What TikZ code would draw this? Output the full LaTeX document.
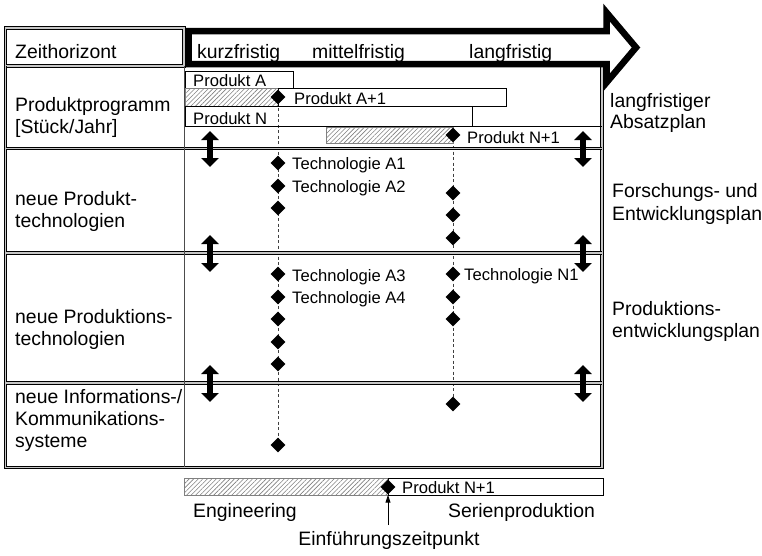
\documentclass[tikz,border=0pt]{standalone}
\usepackage{fontspec}
\setmainfont{Liberation Sans}
\usetikzlibrary{shapes.geometric,arrows.meta,patterns.meta,backgrounds}

\begin{document}
\begin{tikzpicture}[x=1pt,y=-1pt,
  bigtext/.style={font=\fontsize{19.4}{22}\selectfont, inner sep=0pt, anchor=base west},
  smalltext/.style={font=\fontsize{16.6}{19}\selectfont, inner sep=0pt, anchor=base west},
  frameline/.style={draw=black, line width=0.9pt, double=gray!45, double distance=1.8pt},
  barbox/.style={draw=black, line width=0.8pt},
  hatchbox/.style={draw=gray, line width=0.6pt,
    pattern={Lines[angle=45,distance=3.2pt,line width=0.6pt]}, pattern color=gray},
  milestone/.style={diamond, fill=black, inner sep=0pt, minimum width=15pt, minimum height=15pt},
  guide/.style={draw=gray!50!black, line width=0.8pt, dash pattern=on 3pt off 2.5pt},
  spanarrow/.style={line width=6pt, {Triangle[width=17pt,length=9pt]}-{Triangle[width=17pt,length=9pt]}},
  timearrow/.style={draw=black, line width=6.5pt, line join=miter, fill=white}
]
\useasboundingbox (0,0) rectangle (762,555);
\begin{pgfonlayer}{background}
  \fill[white] (0,0) rectangle (762,555);
\end{pgfonlayer}

% table frame and row separators
\draw[frameline] (5.5,28) rectangle (184,66);
\draw[frameline] (602,67) -- (602,467.5) -- (5.5,467.5) -- (5.5,66);
\draw[frameline] (5.5,148.5) -- (602,148.5);
\draw[frameline] (5.5,253) -- (602,253);
\draw[frameline] (5.5,383) -- (602,383);
\draw[black!70, line width=0.7pt] (184.5,66) -- (184.5,467);

% time axis arrow
\draw[timearrow] (188.5,31) -- (606.5,31) -- (606.5,12.5) -- (636,47.5)
  -- (606.5,82.5) -- (606.5,64) -- (188.5,64) -- cycle;

% header texts
\node[bigtext] (zh) at (15,58) {Zeithorizont};
\node[bigtext] (kf) at (197,58) {kurzfristig};
\node[bigtext] (mf) at (312,58) {mittelfristig};
\node[bigtext] (lf) at (469,58) {langfristig};

% row titles
\node[bigtext] (r1a) at (15,111) {Produktprogramm};
\node[bigtext] (r1b) at (15,133) {[Stück/Jahr]};
\node[bigtext] (r2a) at (15,205) {neue Produkt-};
\node[bigtext] (r2b) at (15,227) {technologien};
\node[bigtext] (r3a) at (15,323) {neue Produktions-};
\node[bigtext] (r3b) at (15,345) {technologien};
\node[bigtext] (r4a) at (15,403) {neue Informations-/};
\node[bigtext] (r4b) at (15,425) {Kommunikations-};
\node[bigtext] (r4c) at (15,447) {systeme};

% plan names
\node[bigtext] (p1a) at (610,107) {langfristiger};
\node[bigtext] (p1b) at (610,128) {Absatzplan};
\node[bigtext] (p2a) at (612,197) {Forschungs- und};
\node[bigtext] (p2b) at (612,220) {Entwicklungsplan};
\node[bigtext] (p3a) at (612,315) {Produktions-};
\node[bigtext] (p3b) at (612,337) {entwicklungsplan};

% product program bars
\draw[barbox] (185,71) rectangle (293,88);
\draw[hatchbox] (185,88) rectangle (278,106.5);
\draw[barbox] (278,88) rectangle (506,106.5);
\draw[barbox] (185,106.5) rectangle (472,126) -- (602,126);
\draw[hatchbox] (326,127) rectangle (453,143);
\node[smalltext] (pA) at (193,86) {Produkt A};
\node[smalltext] (pA1) at (294,104) {Produkt A+1};
\node[smalltext] (pN) at (193,124) {Produkt N};
\node[smalltext] (pN1) at (467,143) {Produkt N+1};

% milestones, column A
\node[milestone] (a0) at (278,97) {};
\node[milestone] (a1) at (278,163) {};
\node[milestone] (a2) at (278,186) {};
\node[milestone] (a3) at (278,208) {};
\node[milestone] (a4) at (278,274) {};
\node[milestone] (a5) at (278,297) {};
\node[milestone] (a6) at (278,319) {};
\node[milestone] (a7) at (278,342) {};
\node[milestone] (a8) at (278,364) {};
\node[milestone] (a9) at (278,445) {};
% milestones, column N
\node[milestone] (n0) at (453,135) {};
\node[milestone] (n1) at (453,193) {};
\node[milestone] (n2) at (453,215) {};
\node[milestone] (n3) at (453,238) {};
\node[milestone] (n4) at (453,274) {};
\node[milestone] (n5) at (453,297) {};
\node[milestone] (n6) at (453,319) {};
\node[milestone] (n7) at (453,404) {};

\begin{pgfonlayer}{background}
  \draw[guide] (a0.center) -- (a9.center);
  \draw[guide] (n0.center) -- (n7.center);
\end{pgfonlayer}

\node[smalltext] (tA1) at (292,169) {Technologie A1};
\node[smalltext] (tA2) at (292,192) {Technologie A2};
\node[smalltext] (tA3) at (292,281) {Technologie A3};
\node[smalltext] (tA4) at (292,303) {Technologie A4};
\node[smalltext] (tN1) at (464,280) {Technologie N1};

% coordination arrows between the plans
\coordinate (l1t) at (210,131); \coordinate (l1b) at (210,167);
\coordinate (l2t) at (210,235); \coordinate (l2b) at (210,272);
\coordinate (l3t) at (210,365); \coordinate (l3b) at (210,402);
\coordinate (r1t) at (583,131); \coordinate (r1b) at (583,167);
\coordinate (r2t) at (583,235); \coordinate (r2b) at (583,272);
\coordinate (r3t) at (583,365); \coordinate (r3b) at (583,402);
\draw[spanarrow] (l1t) -- (l1b);
\draw[spanarrow] (l2t) -- (l2b);
\draw[spanarrow] (l3t) -- (l3b);
\draw[spanarrow] (r1t) -- (r1b);
\draw[spanarrow] (r2t) -- (r2b);
\draw[spanarrow] (r3t) -- (r3b);

% product N+1 timeline
\draw[hatchbox] (184,478) rectangle (388,495);
\draw[barbox] (388,478) rectangle (603,495);
\node[milestone] (b0) at (388,487) {};
\node[smalltext] (bN1) at (402,493) {Produkt N+1};
\node[bigtext] (eng) at (193,517) {Engineering};
\node[bigtext] (ser) at (448,517) {Serienproduktion};
\node[bigtext, anchor=base] (ezp) at (389,545) {Einführungszeitpunkt};
\coordinate (ezpTop) at (388,525);
\draw[line width=1pt, -{Triangle[width=5pt,length=8pt]}] (ezpTop) -- (b0.south);

\end{tikzpicture}
\end{document}
